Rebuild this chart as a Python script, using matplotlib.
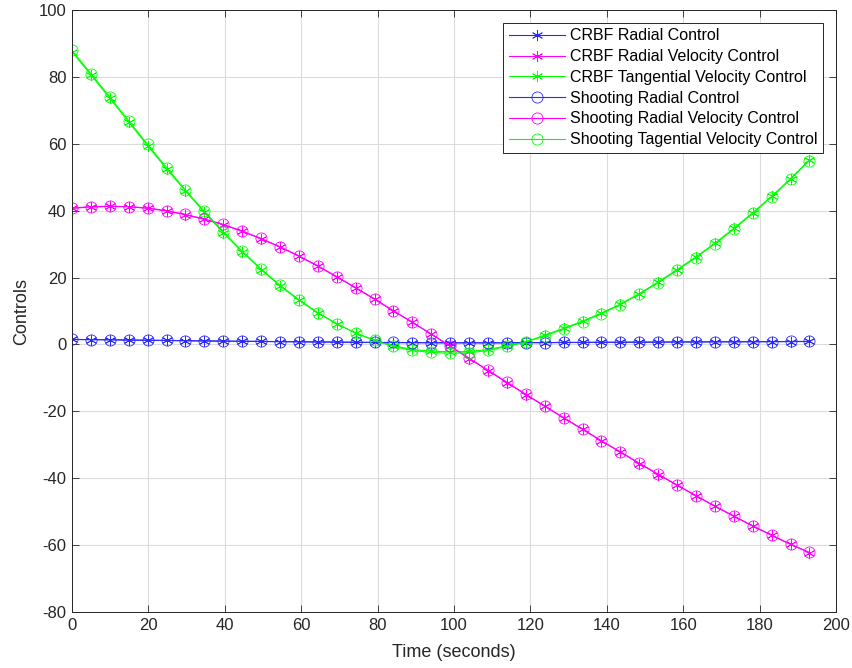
import matplotlib.pyplot as plt

plt.rcParams['font.family'] = ['Liberation Sans', 'DejaVu Sans']
plt.rcParams['axes.unicode_minus'] = False

# time grid (seconds)
time = [0, 4.95, 9.9, 14.85, 19.8, 24.75, 29.7, 34.65, 39.6, 44.55,
        49.5, 54.45, 59.4, 64.35, 69.3, 74.25, 79.2, 84.15, 89.1, 94.05,
        99.0, 103.95, 108.9, 113.85, 118.8, 123.75, 128.7, 133.65, 138.6, 143.55,
        148.5, 153.45, 158.4, 163.35, 168.3, 173.25, 178.2, 183.15, 188.1, 193.05]

# CRBF solution
crbf_radial = [1.5, 1.45, 1.4, 1.3, 1.25, 1.2, 1.1, 1.05, 1.0, 0.95,
               0.9, 0.85, 0.8, 0.75, 0.7, 0.65, 0.6, 0.55, 0.55, 0.5,
               0.5, 0.5, 0.5, 0.5, 0.55, 0.55, 0.6, 0.6, 0.65, 0.65,
               0.7, 0.7, 0.75, 0.75, 0.8, 0.8, 0.8, 0.85, 0.85, 0.9]
crbf_radial_vel = [40.7, 41.1, 41.3, 41.2, 40.7, 39.9, 38.8, 37.4, 35.8, 33.8,
                   31.6, 29.1, 26.4, 23.4, 20.2, 16.9, 13.5, 10.0, 6.6, 3.1,
                   -0.5, -4.2, -7.8, -11.4, -15.0, -18.5, -22.0, -25.4, -28.9, -32.2,
                   -35.6, -38.9, -42.1, -45.3, -48.4, -51.4, -54.3, -57.1, -59.8, -62.3]
crbf_tang_vel = [87.5, 80.6, 73.6, 66.5, 59.4, 52.5, 45.9, 39.5, 33.4, 27.7,
                 22.4, 17.5, 13.2, 9.4, 6.2, 3.4, 1.3, -0.4, -1.5, -2.0,
                 -2.2, -2.1, -1.5, -0.4, 0.8, 2.8, 4.8, 7.0, 9.4, 12.1,
                 15.2, 18.7, 22.4, 26.2, 30.3, 34.7, 39.4, 44.3, 49.6, 55.2]

# shooting method solution
shoot_radial = [1.5, 1.45, 1.4, 1.35, 1.25, 1.2, 1.15, 1.05, 1.0, 0.95,
                0.9, 0.85, 0.8, 0.75, 0.7, 0.65, 0.6, 0.6, 0.55, 0.55,
                0.5, 0.5, 0.5, 0.5, 0.55, 0.55, 0.6, 0.6, 0.65, 0.65,
                0.7, 0.7, 0.75, 0.75, 0.8, 0.8, 0.85, 0.85, 0.9, 0.9]
shoot_radial_vel = [40.8, 41.2, 41.3, 41.2, 40.8, 40.0, 38.9, 37.5, 35.9, 33.9,
                    31.7, 29.2, 26.5, 23.5, 20.3, 17.0, 13.6, 10.1, 6.6, 3.1,
                    -0.5, -4.1, -7.7, -11.3, -14.9, -18.4, -21.9, -25.3, -28.8, -32.1,
                    -35.5, -38.8, -42.0, -45.2, -48.3, -51.3, -54.2, -57.0, -59.7, -62.2]
shoot_tang_vel = [87.9, 81.0, 74.0, 66.9, 59.8, 52.9, 46.2, 39.8, 33.7, 27.9,
                  22.6, 17.7, 13.4, 9.5, 6.2, 3.4, 1.2, -0.6, -1.8, -2.4,
                  -2.6, -2.5, -1.8, -0.6, 0.7, 2.6, 4.6, 6.8, 9.2, 11.9,
                  15.0, 18.5, 22.2, 26.0, 30.1, 34.5, 39.2, 44.1, 49.4, 55.0]

fig = plt.figure(figsize=(8.53, 6.68), dpi=100)
ax = fig.add_axes([0.0844, 0.0838, 0.8957, 0.9012])

blue = '#2a2aff'
magenta = '#ff00ff'
green = '#00ff00'
star = (6, 2, 0)
ms = 8
mew = 0.6
lw = 0.8
ax.plot(time, crbf_radial, color=blue, marker=star, ms=ms, mew=mew, lw=lw, label='CRBF Radial Control')
ax.plot(time, crbf_radial_vel, color=magenta, marker=star, ms=ms, mew=mew, lw=lw, label='CRBF Radial Velocity Control')
ax.plot(time, crbf_tang_vel, color=green, marker=star, ms=ms, mew=mew, lw=lw, label='CRBF Tangential Velocity Control')
ax.plot(time, shoot_radial, color=blue, marker='o', mfc='none', ms=ms, mew=mew, lw=lw, label='Shooting Radial Control')
ax.plot(time, shoot_radial_vel, color=magenta, marker='o', mfc='none', ms=ms, mew=mew, lw=lw, label='Shooting Radial Velocity Control')
ax.plot(time, shoot_tang_vel, color=green, marker='o', mfc='none', ms=ms, mew=mew, lw=lw, label='Shooting Tagential Velocity Control')

ax.set_xlim(0, 200)
ax.set_ylim(-80, 100)
ax.set_xticks(range(0, 201, 20))
ax.set_yticks(range(-80, 101, 20))
ax.grid(True, color='#dcdcdc', lw=0.8)
ax.set_axisbelow(True)
ax.tick_params(direction='in', length=5, width=0.6, top=True, right=True,
               labelsize=12, colors='#262626', pad=4)
for s in ax.spines.values():
    s.set_color('#262626')
    s.set_linewidth(0.7)

ax.set_xlabel('Time (seconds)', fontsize=13, color='#262626', labelpad=8)
ax.set_ylabel('Controls', fontsize=13, color='#262626', labelpad=6)

leg = ax.legend(loc='upper right', fontsize=11.5, fancybox=False, edgecolor='#262626',
                framealpha=1, handlelength=3.5, handletextpad=0.35, labelspacing=0.36,
                borderaxespad=0.8, borderpad=0.35)
leg.get_frame().set_linewidth(0.7)

fig.savefig('out.png', dpi=100)
